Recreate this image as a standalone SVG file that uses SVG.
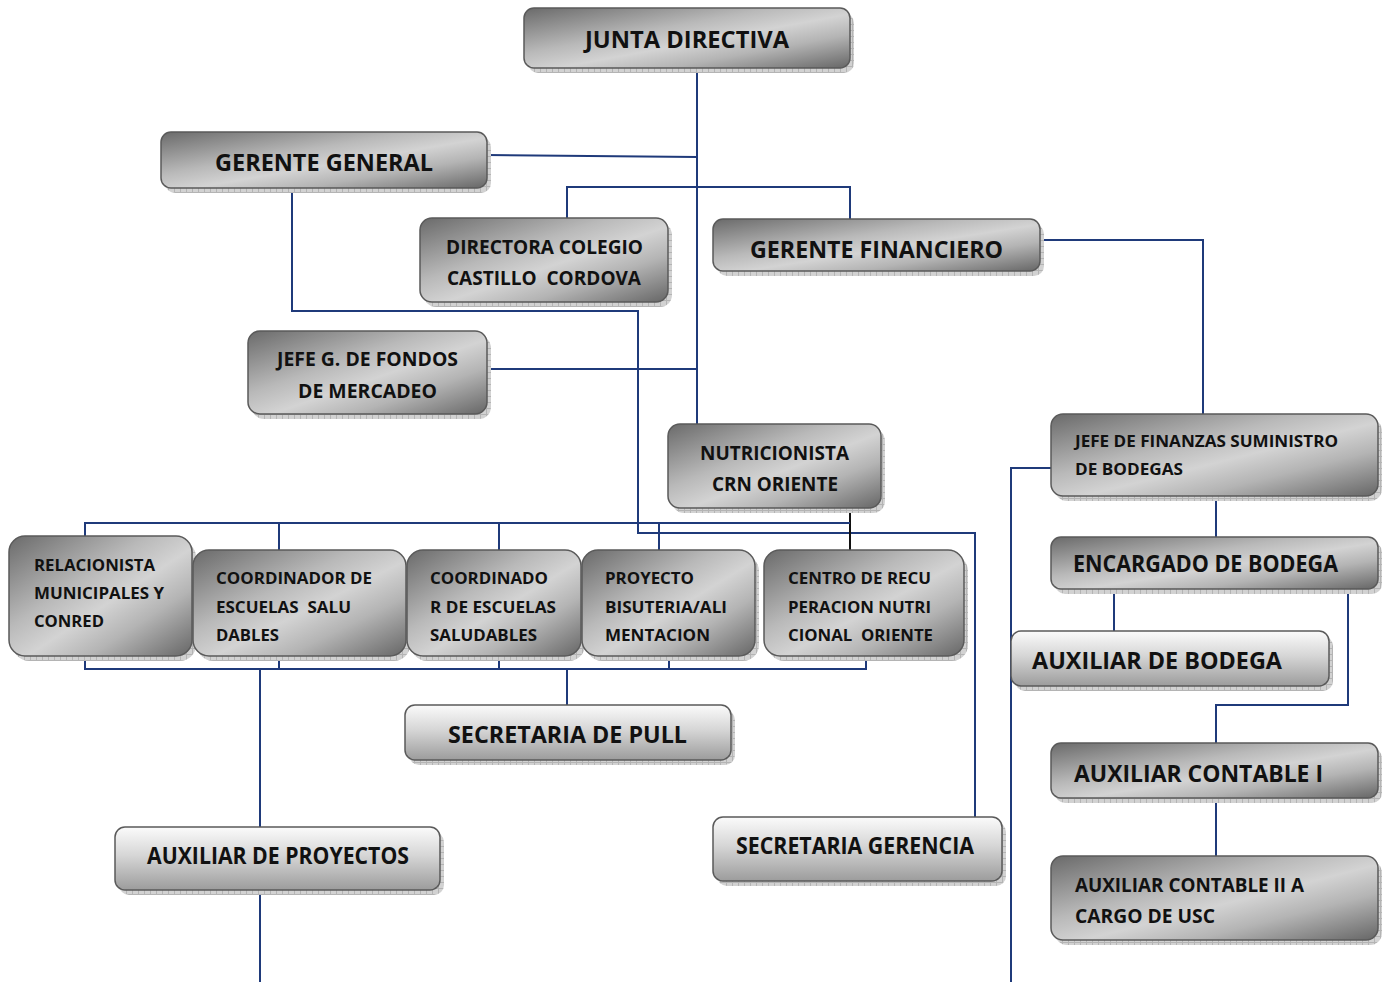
<svg xmlns="http://www.w3.org/2000/svg" width="1387" height="982" viewBox="0 0 1387 982">
<defs>
<linearGradient id="gd" x1="0" y1="0" x2="1" y2="1">
<stop offset="0" stop-color="#6a6a6a"/>
<stop offset="0.38" stop-color="#b9b9b9"/>
<stop offset="0.55" stop-color="#d3d3d3"/>
<stop offset="0.72" stop-color="#b4b4b4"/>
<stop offset="1" stop-color="#666"/>
</linearGradient>
<linearGradient id="gv" x1="0" y1="0" x2="0" y2="1">
<stop offset="0" stop-color="#fbfbfb"/>
<stop offset="0.45" stop-color="#d6d6d6"/>
<stop offset="1" stop-color="#9c9c9c"/>
</linearGradient>
<pattern id="sh" width="6" height="6" patternUnits="userSpaceOnUse">
<rect width="6" height="6" fill="#d2d2d2"/>
<path d="M0 0.5H6M0.5 0V6" stroke="#b4b4b4" stroke-width="1"/>
</pattern>
</defs>
<style>
.s{fill:url(#sh)}
.bd{fill:url(#gd);stroke:#5a5a5a;stroke-width:1.5}
.bv{fill:url(#gv);stroke:#5a5a5a;stroke-width:1.5}
text{font-family:"Open Sans",Lato,"Liberation Sans",sans-serif;font-weight:bold;fill:#111;white-space:pre}
.t24{font-size:23px}
.t20{font-size:19px}
.t17{font-size:16px}
.c{stroke:#1f3a7a;stroke-width:2;fill:none}
.k{stroke:#111;stroke-width:2;fill:none}
</style>
<rect width="1387" height="982" fill="#fff"/>
<g id="connectors">
<path class="c" d="M697 68V424"/>
<path class="c" d="M487 155L697 157"/>
<path class="c" d="M567 218V187H850V219"/>
<path class="c" d="M1040 240H1203V414"/>
<path class="c" d="M487 369H697"/>
<path class="c" d="M292 188V311H638V533H975V817"/>
<path class="k" d="M850 508V550"/>
<path class="c" d="M85 536V523H850"/>
<path class="c" d="M279 523V550M499 523V550M659 523V550"/>
<path class="c" d="M85 656V669H866V656"/>
<path class="c" d="M279 656V669M499 656V669M669 656V669"/>
<path class="c" d="M567 669V705"/>
<path class="c" d="M260 669V827M260 890V982"/>
<path class="c" d="M1216 496V537"/>
<path class="c" d="M1114 589V631"/>
<path class="c" d="M1348 589V705H1216V743"/>
<path class="c" d="M1216 798V856"/>
<path class="c" d="M1051 468H1011V982"/>
</g>
<g id="junta-directiva">
<rect class="s" x="528" y="13" width="326" height="60" rx="10"/>
<rect class="bd" x="524" y="8" width="326" height="60" rx="10"/>
<text class="t24" x="585" y="48" textLength="204" lengthAdjust="spacingAndGlyphs">JUNTA DIRECTIVA</text>
</g>
<g id="gerente-general">
<rect class="s" x="165" y="137" width="326" height="56" rx="10"/>
<rect class="bd" x="161" y="132" width="326" height="56" rx="10"/>
<text class="t24" x="215" y="171" textLength="218" lengthAdjust="spacingAndGlyphs">GERENTE GENERAL</text>
</g>
<g id="directora-colegio">
<rect class="s" x="424" y="223" width="248" height="84" rx="12"/>
<rect class="bd" x="420" y="218" width="248" height="84" rx="12"/>
<text class="t20" x="446" y="254" textLength="197" lengthAdjust="spacingAndGlyphs">DIRECTORA COLEGIO</text>
<text class="t20" x="447" y="285" textLength="194" lengthAdjust="spacingAndGlyphs">CASTILLO  CORDOVA</text>
</g>
<g id="gerente-financiero">
<rect class="s" x="717" y="224" width="327" height="52" rx="10"/>
<rect class="bd" x="713" y="219" width="327" height="52" rx="10"/>
<text class="t24" x="750" y="258" textLength="253" lengthAdjust="spacingAndGlyphs">GERENTE FINANCIERO</text>
</g>
<g id="jefe-fondos">
<rect class="s" x="252" y="336" width="239" height="83" rx="12"/>
<rect class="bd" x="248" y="331" width="239" height="83" rx="12"/>
<text class="t20" x="277" y="366" textLength="181" lengthAdjust="spacingAndGlyphs">JEFE G. DE FONDOS</text>
<text class="t20" x="298" y="398" textLength="139" lengthAdjust="spacingAndGlyphs">DE MERCADEO</text>
</g>
<g id="nutricionista">
<rect class="s" x="672" y="429" width="213" height="84" rx="12"/>
<rect class="bd" x="668" y="424" width="213" height="84" rx="12"/>
<text class="t20" x="700" y="460" textLength="149" lengthAdjust="spacingAndGlyphs">NUTRICIONISTA</text>
<text class="t20" x="712" y="491" textLength="126" lengthAdjust="spacingAndGlyphs">CRN ORIENTE</text>
</g>
<g id="jefe-finanzas">
<rect class="s" x="1055" y="419" width="327" height="82" rx="12"/>
<rect class="bd" x="1051" y="414" width="327" height="82" rx="12"/>
<text class="t17" x="1075" y="447" textLength="263" lengthAdjust="spacingAndGlyphs">JEFE DE FINANZAS SUMINISTRO</text>
<text class="t17" x="1075" y="475" textLength="108" lengthAdjust="spacingAndGlyphs">DE BODEGAS</text>
</g>
<g id="encargado-bodega">
<rect class="s" x="1055" y="542" width="327" height="52" rx="10"/>
<rect class="bd" x="1051" y="537" width="327" height="52" rx="10"/>
<text class="t24" x="1073" y="572" textLength="265" lengthAdjust="spacingAndGlyphs">ENCARGADO DE BODEGA</text>
</g>
<g id="auxiliar-bodega">
<rect class="s" x="1015" y="636" width="318" height="55" rx="10"/>
<rect class="bv" x="1011" y="631" width="318" height="55" rx="10"/>
<text class="t24" x="1032" y="669" textLength="250" lengthAdjust="spacingAndGlyphs">AUXILIAR DE BODEGA</text>
</g>
<g id="auxiliar-contable-1">
<rect class="s" x="1055" y="748" width="327" height="55" rx="10"/>
<rect class="bd" x="1051" y="743" width="327" height="55" rx="10"/>
<text class="t24" x="1074" y="782" textLength="249" lengthAdjust="spacingAndGlyphs">AUXILIAR CONTABLE I</text>
</g>
<g id="auxiliar-contable-2">
<rect class="s" x="1055" y="861" width="327" height="84" rx="12"/>
<rect class="bd" x="1051" y="856" width="327" height="84" rx="12"/>
<text class="t20" x="1075" y="892" textLength="229" lengthAdjust="spacingAndGlyphs">AUXILIAR CONTABLE II A</text>
<text class="t20" x="1075" y="923" textLength="140" lengthAdjust="spacingAndGlyphs">CARGO DE USC</text>
</g>
<g id="relacionista">
<rect class="s" x="13" y="541" width="183" height="120" rx="16"/>
<rect class="bd" x="9" y="536" width="183" height="120" rx="16"/>
<text class="t17" x="34" y="571" textLength="121" lengthAdjust="spacingAndGlyphs">RELACIONISTA</text>
<text class="t17" x="34" y="599" textLength="130" lengthAdjust="spacingAndGlyphs">MUNICIPALES Y</text>
<text class="t17" x="34" y="627" textLength="70" lengthAdjust="spacingAndGlyphs">CONRED</text>
</g>
<g id="coordinador-escuelas">
<rect class="s" x="197" y="555" width="213" height="106" rx="16"/>
<rect class="bd" x="193" y="550" width="213" height="106" rx="16"/>
<text class="t17" x="216" y="584" textLength="156" lengthAdjust="spacingAndGlyphs">COORDINADOR DE</text>
<text class="t17" x="216" y="613" textLength="135" lengthAdjust="spacingAndGlyphs">ESCUELAS  SALU</text>
<text class="t17" x="216" y="641" textLength="63" lengthAdjust="spacingAndGlyphs">DABLES</text>
</g>
<g id="coordinado-escuelas">
<rect class="s" x="411" y="555" width="174" height="106" rx="16"/>
<rect class="bd" x="407" y="550" width="174" height="106" rx="16"/>
<text class="t17" x="430" y="584" textLength="118" lengthAdjust="spacingAndGlyphs">COORDINADO</text>
<text class="t17" x="430" y="613" textLength="126" lengthAdjust="spacingAndGlyphs">R DE ESCUELAS</text>
<text class="t17" x="430" y="641" textLength="107" lengthAdjust="spacingAndGlyphs">SALUDABLES</text>
</g>
<g id="proyecto-bisuteria">
<rect class="s" x="586" y="555" width="173" height="106" rx="16"/>
<rect class="bd" x="582" y="550" width="173" height="106" rx="16"/>
<text class="t17" x="605" y="584" textLength="89" lengthAdjust="spacingAndGlyphs">PROYECTO</text>
<text class="t17" x="605" y="613" textLength="122" lengthAdjust="spacingAndGlyphs">BISUTERIA/ALI</text>
<text class="t17" x="605" y="641" textLength="105" lengthAdjust="spacingAndGlyphs">MENTACION</text>
</g>
<g id="centro-recuperacion">
<rect class="s" x="768" y="555" width="200" height="106" rx="16"/>
<rect class="bd" x="764" y="550" width="200" height="106" rx="16"/>
<text class="t17" x="788" y="584" textLength="143" lengthAdjust="spacingAndGlyphs">CENTRO DE RECU</text>
<text class="t17" x="788" y="613" textLength="143" lengthAdjust="spacingAndGlyphs">PERACION NUTRI</text>
<text class="t17" x="788" y="641" textLength="145" lengthAdjust="spacingAndGlyphs">CIONAL  ORIENTE</text>
</g>
<g id="secretaria-pull">
<rect class="s" x="409" y="710" width="326" height="55" rx="10"/>
<rect class="bv" x="405" y="705" width="326" height="55" rx="10"/>
<text class="t24" x="448" y="743" textLength="239" lengthAdjust="spacingAndGlyphs">SECRETARIA DE PULL</text>
</g>
<g id="auxiliar-proyectos">
<rect class="s" x="119" y="832" width="325" height="63" rx="10"/>
<rect class="bv" x="115" y="827" width="325" height="63" rx="10"/>
<text class="t24" x="147" y="864" textLength="262" lengthAdjust="spacingAndGlyphs">AUXILIAR DE PROYECTOS</text>
</g>
<g id="secretaria-gerencia">
<rect class="s" x="717" y="822" width="289" height="64" rx="10"/>
<rect class="bv" x="713" y="817" width="289" height="64" rx="10"/>
<text class="t24" x="736" y="854" textLength="238" lengthAdjust="spacingAndGlyphs">SECRETARIA GERENCIA</text>
</g>
</svg>
